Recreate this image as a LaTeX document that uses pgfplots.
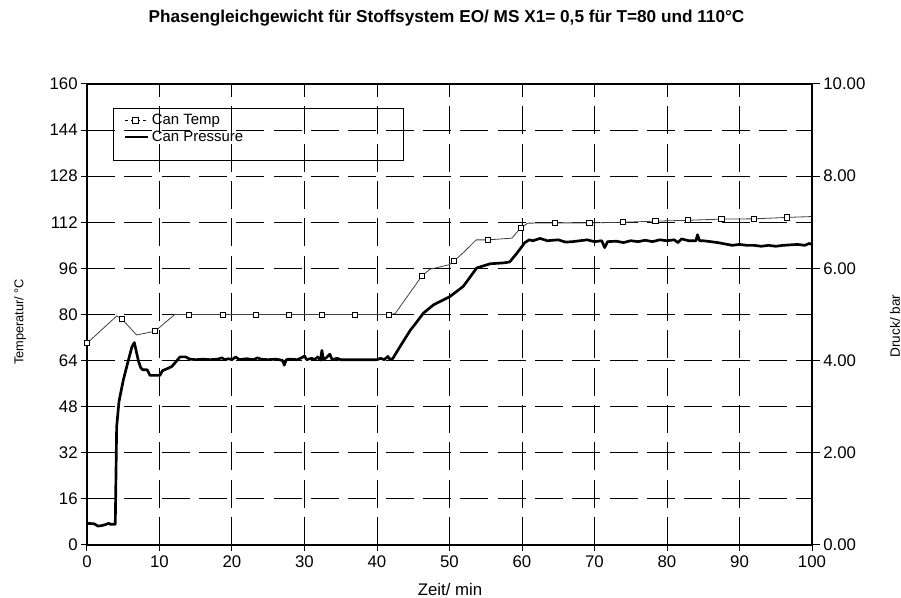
\documentclass[border=0pt]{standalone}
\usepackage{fontspec}
\setmainfont{Liberation Sans}
\usepackage{pgfplots}
\pgfplotsset{compat=1.18}

\pgfplotstableread{
t T
0 70
4.1 79.5
4.78 78.5
6.85 72.9
9.38 74.2
12.1 80
41.8 80
42.5 80.3
46.2 93.4
47.3 95.7
50.0 97.3
50.6 98.5
52.0 101.7
53.7 105.9
55.3 105.9
58.6 106.5
59.8 110
60.8 111.7
64.6 111.8
69.3 111.8
73.9 112.0
78.4 112.4
82.9 112.7
87.5 113.1
92.0 113.2
96.6 113.7
100 114
}\temptable

\pgfplotstableread{
t T
0 70
4.78 78.5
9.38 74.2
14.0 80
18.7 80
23.3 80
27.8 80
32.4 80
37.0 80
41.6 80
46.2 93.4
50.6 98.5
55.3 105.9
59.8 110
64.6 111.8
69.3 111.8
73.9 112.0
78.4 112.4
82.9 112.7
87.5 113.1
92.0 113.2
96.6 113.7
}\tempmarks

\pgfplotstableread{
t p
0 0.47
1.0 0.46
1.5 0.41
2.0 0.42
2.5 0.44
3.0 0.47
3.2 0.45
3.9 0.45
3.95 1.0
4.09 2.56
4.41 3.11
5.01 3.58
5.71 4.01
6.2 4.30
6.53 4.39
6.8 4.20
7.08 4.00
7.4 3.85
7.68 3.80
8.3 3.80
8.69 3.68
10.07 3.68
10.4 3.78
11.0 3.82
11.68 3.87
12.3 3.98
12.83 4.08
13.6 4.08
14.2 4.03
15 4.02
16 4.03
17 4.02
18 4.03
18.6 4.06
19 4.02
19.5 4.04
20 4.02
20.5 4.08
21 4.02
22 4.04
23 4.02
23.5 4.06
24 4.03
25 4.02
26 4.03
26.5 4.02
27 4.00
27.2 3.90
27.5 4.02
28 4.03
29 4.02
29.6 4.06
30 4.10
30.3 4.02
31 4.05
31.4 4.02
31.8 4.08
32.2 4.01
32.4 4.22
32.6 4.03
33 4.06
33.5 4.14
33.8 4.02
34.5 4.05
35 4.02
36 4.02
37 4.02
38 4.02
39 4.02
40 4.02
40.5 4.05
41 4.02
41.5 4.09
41.8 4.02
42.2 4.05
43.2 4.31
44.6 4.66
45.5 4.84
46.4 5.03
47.8 5.21
50.07 5.39
51.9 5.61
53.76 6.01
55.6 6.10
57.5 6.12
58.3 6.14
59.3 6.33
60.4 6.56
61 6.62
61.5 6.60
62.5 6.65
63.5 6.60
65 6.62
66 6.57
67 6.58
68 6.60
69 6.62
70 6.58
71.0 6.60
71.4 6.45
71.8 6.58
73 6.59
74 6.56
75 6.60
76 6.58
77 6.61
78 6.58
79 6.62
80 6.60
81 6.62
81.5 6.56
82 6.64
83 6.60
84 6.60
84.2 6.73
84.5 6.60
85 6.60
86 6.58
87 6.56
88 6.53
89 6.50
90 6.52
91 6.50
92 6.50
93 6.48
94 6.50
95 6.48
96 6.50
97 6.51
98 6.52
99 6.50
99.6 6.54
100 6.52
}\prestable

\begin{document}
\begin{tikzpicture}
\useasboundingbox (-65.25pt,-39.75pt) rectangle (610.5pt,408.75pt);
\begin{axis}[
  at={(0,0)}, anchor=south west,
  width=543.75pt, height=345.75pt, scale only axis,
  xmin=0, xmax=100, ymin=0, ymax=160,
  xtick={0,10,...,100}, ytick={0,16,...,160},
  tick pos=left, tick align=outside,
  major tick length=4.5pt,
  tick style={line width=0.75pt, black},
  axis line style={line width=1.5pt},
  grid=major,
  major grid style={line width=0.75pt, black, dash pattern=on 21pt off 7pt},
  /pgf/number format/assume math mode=true,
  tick label style={font=\fontsize{12.6}{14}\selectfont},
  yticklabel style={xshift=1pt},
  xlabel={Zeit/ min},
  xlabel style={font=\fontsize{12.6}{14}\selectfont, at={(axis description cs:0.5007,-0.0976)}, anchor=center},
  ylabel={Temperatur/ °C},
  ylabel style={font=\fontsize{9.6}{11}\selectfont, at={(axis description cs:-0.0924,0.484)}, anchor=center},
  title={Phasengleichgewicht für Stoffsystem EO/ MS X1= 0,5 für T=80 und 110°C},
  title style={font=\bfseries\fontsize{12.9}{14}\selectfont, at={(axis description cs:0.4959,1.1475)}, anchor=center, yshift=-7.5pt},
  legend style={draw=none, fill=none, at={(axis description cs:0.0485,0.9436)}, anchor=north west,
    font=\fontsize{11.2}{12.3}\selectfont, inner sep=1pt, row sep=-1pt},
  legend cell align=left,
]
\draw[line width=0.75pt] (axis description cs:0.0372,0.9458) rectangle (axis description cs:0.4359,0.8351);
\addplot[black!75, line width=0.6pt,
  legend image code/.code={
    \draw[black, line width=0.6pt, dash pattern=on 2.5pt off 2pt] (0pt,0pt)--(16pt,0pt);
    \draw[black, line width=0.6pt, fill=white] (5.8pt,-2.1pt) rectangle (10.0pt,2.1pt);}
  ] table[x=t,y=T] {\temptable};
\addlegendentry{Can Temp}
\addplot[only marks, mark=square*, mark size=1.9pt, mark options={fill=white, draw=black, line width=0.6pt}, forget plot] table[x=t,y=T] {\tempmarks};
\addlegendimage{black, line width=2pt}
\addlegendentry{Can Pressure}
\end{axis}
\begin{axis}[
  at={(0,0)}, anchor=south west,
  width=543.75pt, height=345.75pt, scale only axis,
  xmin=0, xmax=100, ymin=0, ymax=10,
  axis x line=none, axis y line*=right,
  ytick={0,2,...,10},
  tick align=outside, major tick length=6pt,
  tick style={line width=0.75pt, black},
  axis line style={line width=1.5pt},
  /pgf/number format/assume math mode=true,
  yticklabel style={font=\fontsize{12.6}{14}\selectfont, xshift=-1pt, /pgf/number format/.cd, fixed, fixed zerofill, precision=2},
  ylabel={Druck/ bar},
  ylabel style={font=\fontsize{10.2}{12}\selectfont, at={(axis description cs:1.1145,0.475)}, anchor=center},
]
\addplot[black, line width=2pt, line join=round] table[x=t,y=p] {\prestable};
\end{axis}
\end{tikzpicture}
\end{document}
